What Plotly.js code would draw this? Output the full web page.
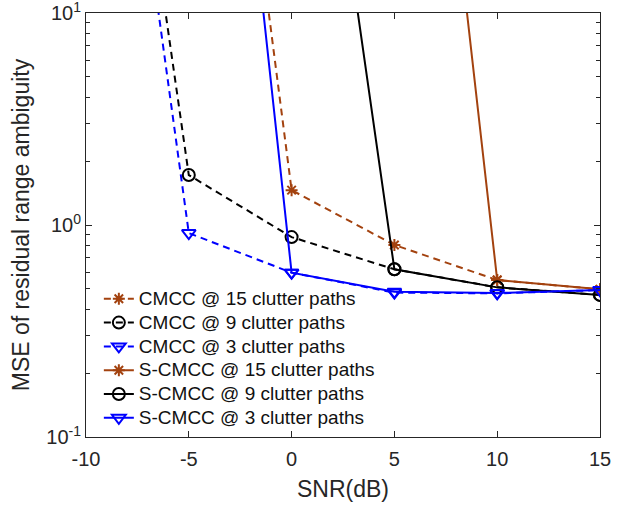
<!DOCTYPE html>
<html>
<head>
<meta charset="utf-8">
<script src="https://cdn.plot.ly/plotly-3.0.1.min.js"></script>
<style>html,body{margin:0;padding:0;background:#fff;}#chart{width:628px;height:505px;}</style>
</head>
<body>
<div id="chart"></div>
<script>
var snr = [-10, -5, 0, 5, 10, 15];
var cmcc15 = [20000, 8500, 1.46, 0.805, 0.55, 0.497];
var cmcc9 = [4150, 1.72, 0.877, 0.618, 0.508, 0.468];
var cmcc3 = [3100, 0.916, 0.596, 0.48, 0.476, 0.493];
var scmcc15 = [50000, 40000, 25000, 10700, 0.55, 0.497];
var scmcc9 = [30000, 15000, 1550, 0.618, 0.508, 0.468];
var scmcc3 = [40000, 17800, 0.596, 0.484, 0.478, 0.493];
var seriesNames = ['CMCC @ 15 clutter paths', 'CMCC @ 9 clutter paths', 'CMCC @ 3 clutter paths',
  'S-CMCC @ 15 clutter paths', 'S-CMCC @ 9 clutter paths', 'S-CMCC @ 3 clutter paths'];
var xTickVals = [-10, -5, 0, 5, 10, 15];
var xTickText = ['-10', '-5', '0', '5', '10', '15'];
var yTickVals = [0.1, 1, 10];
var yTickText = ['10<sup>-1</sup>', '10<sup>0</sup>', '10<sup>1</sup>'];

var brown = '#a3420f', black = '#000000', blue = '#0000ff';
var dashed = '7px,5px';
function tr(y, name, color, dash, sym, size) {
  return {
    x: snr, y: y, name: '<span style="font-size:19px">' + name + '</span>',
    type: 'scatter', mode: 'lines+markers',
    line: {color: color, width: 2, dash: dash},
    marker: {symbol: sym, size: size, color: color, line: {color: color, width: 2}}
  };
}
var data = [
  tr(cmcc15, seriesNames[0], brown, dashed, 'asterisk-open', 10),
  tr(cmcc9, seriesNames[1], black, dashed, 'circle-open', 12),
  tr(cmcc3, seriesNames[2], blue, dashed, 'triangle-down-open', 12),
  tr(scmcc15, seriesNames[3], brown, 'solid', 'asterisk-open', 10),
  tr(scmcc9, seriesNames[4], black, 'solid', 'circle-open', 12),
  tr(scmcc3, seriesNames[5], blue, 'solid', 'triangle-down-open', 12)
];
var axcol = '#262626';
var layout = {
  width: 628, height: 505,
  margin: {l: 86, r: 28, t: 13, b: 68},
  paper_bgcolor: '#fff', plot_bgcolor: '#fff',
  font: {family: 'Liberation Sans, Arial, Helvetica, sans-serif', size: 20, color: axcol},
  showlegend: true,
  legend: {x: 0.025, y: 0.005, xanchor: 'left', yanchor: 'bottom', bgcolor: 'rgba(0,0,0,0)',
    font: {size: 16, color: '#111'}, borderwidth: 0, tracegroupgap: 0},
  xaxis: {
    range: [-10, 15], tickvals: xTickVals, ticktext: xTickText,
    showline: true, linecolor: axcol, linewidth: 1, mirror: 'ticks',
    ticks: 'inside', ticklen: 6, tickcolor: axcol, showgrid: false, zeroline: false,
    tickfont: {size: 20, color: axcol}, ticklabelstandoff: 4, ticklabeloverflow: 'allow',
    title: {text: 'SNR(dB)', font: {size: 23, color: axcol}, standoff: 11}
  },
  yaxis: {
    type: 'log', range: [-1, 1], tickvals: yTickVals, ticktext: yTickText,
    showline: true, linecolor: axcol, linewidth: 1, mirror: 'ticks',
    ticks: 'inside', ticklen: 6, tickcolor: axcol, showgrid: false, zeroline: false,
    tickfont: {size: 20, color: axcol}, ticklabeloverflow: 'allow',
    minor: {ticks: 'inside', ticklen: 4, tickcolor: axcol, dtick: 'D1', showgrid: false},
    title: {text: 'MSE of residual range ambiguity', font: {size: 23, color: axcol}, standoff: 10}
  }
};
Plotly.newPlot('chart', data, layout, {displayModeBar: false, staticPlot: true});
</script>
</body>
</html>
